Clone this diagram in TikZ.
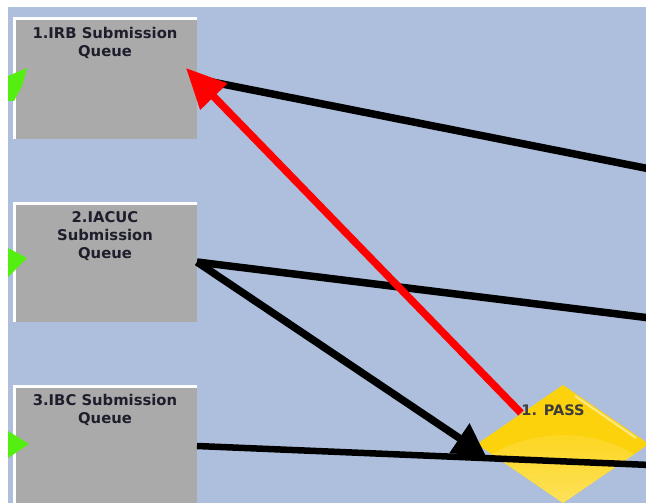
\documentclass[tikz,border=0pt]{standalone}
\usepackage{fontspec}
\setmainfont{DejaVu Sans}
\usetikzlibrary{arrows.meta}
\definecolor{bgblue}{HTML}{ADBFDC}
\definecolor{boxgrey}{HTML}{AAAAAA}
\definecolor{txtdark}{HTML}{1E1E2C}
\definecolor{gold}{HTML}{FCD20C}
\definecolor{paleyellow}{HTML}{FFF0A0}
\definecolor{leafgreen}{HTML}{55EE11}
\definecolor{passgrey}{HTML}{3C3C3C}
\begin{document}
\begin{tikzpicture}[x=1pt,y=-1pt,
  queuebox/.style={draw=none,fill=boxgrey,minimum width=181pt,anchor=north west,inner sep=0pt,outer sep=0pt},
  queuetext/.style={anchor=north,align=center,font=\bfseries\fontsize{14.8}{18}\selectfont,text=txtdark,inner sep=0pt},
  conn/.style={line width=7.5pt},
  blackarrow/.style={conn,-{Triangle[length=32pt,width=34pt]}},
  redarrow/.style={conn,red,-{Triangle[length=40pt,width=36pt]}},
  entry/.style={fill=leafgreen,draw=none}]
\useasboundingbox (0,0) rectangle (646,503);
\clip (0,0) rectangle (646,503);
\fill[white] (0,0) rectangle (646,503);
\fill[bgblue] (8,7) rectangle (646,503);
% diamond
\begin{scope}
  \clip (563,385) -- (649,444) -- (563,503) -- (477,444) -- cycle;
  \fill[gold] (477,385) rectangle (649,503);
  \shade[top color=gold!85!paleyellow,bottom color=paleyellow!60!white] (563,535) ellipse (120pt and 100pt);
  \draw[white,opacity=0.5,line width=2pt] (575,396) -- (636,438);
\end{scope}
\node[font=\bfseries\fontsize{14.5}{16}\selectfont,text=passgrey,inner sep=0pt] (pass) at (553,410) {1. PASS};
% boxes
\fill[white] (13,17) rectangle (197,139);
\node[queuebox,minimum height=119pt] (b1) at (16,20) {};
\fill[white] (13,202) rectangle (197,322);
\node[queuebox,minimum height=117pt] (b2) at (16,205) {};
\fill[white] (13,385) rectangle (197,520);
\node[queuebox,minimum height=132pt] (b3) at (16,388) {};
\node[queuetext] (t1) at (105,27) {1.IRB Submission\\Queue};
\node[queuetext] (t2) at (105,211) {2.IACUC\\Submission\\Queue};
\node[queuetext] (t3) at (105,394) {3.IBC Submission\\Queue};
% green entry markers
\fill[entry] (27,68) -- (22,86) -- (14,101) -- (8,101) -- (8,76) -- cycle;
\fill[entry] (27,258) -- (8,277) -- (8,248) -- cycle;
\fill[entry] (29,444) -- (8,458) -- (8,431) -- cycle;
% connector end points
\coordinate (s1) at (197,79);
\coordinate (e1) at (650,169);
\coordinate (s2) at (197,262);
\coordinate (e2) at (650,318);
\coordinate (tipb) at (486,456);
\coordinate (s3) at (197,446);
\coordinate (e3) at (650,465);
\coordinate (rtail) at (521,413);
\coordinate (rtip) at (186,68);
% connectors
\draw[conn] (s1) -- (e1);
\draw[conn] (s2) -- (e2);
\draw[blackarrow] (s2) -- (tipb);
\draw[conn,line width=6.5pt] (s3) -- (e3);
\draw[redarrow] (rtail) -- (rtip);
\end{tikzpicture}
\end{document}
